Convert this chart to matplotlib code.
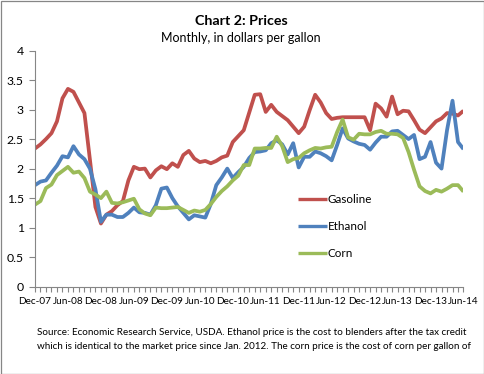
import matplotlib
matplotlib.use("Agg")
import matplotlib.pyplot as plt
from matplotlib.ticker import MultipleLocator, FixedLocator
from matplotlib.patches import Rectangle
import pandas as pd

plt.rcParams['font.family'] = ['Lato', 'DejaVu Sans']

months = pd.date_range('2007-12-01', periods=79, freq='MS')
month_labels = [d.strftime('%b-%y') for d in months]

gasoline = [2.34, 2.41, 2.50, 2.60, 2.80, 3.19, 3.35, 3.30, 3.12, 2.94,
            2.15, 1.35, 1.07, 1.22, 1.28, 1.38, 1.45, 1.80, 2.03, 1.99,
            2.00, 1.85, 1.97, 2.04, 1.99, 2.09, 2.03, 2.23, 2.30, 2.17,
            2.11, 2.13, 2.09, 2.13, 2.19, 2.22, 2.45, 2.55, 2.65, 2.95,
            3.25, 3.26, 2.96, 3.08, 2.96, 2.89, 2.82, 2.71, 2.60, 2.71,
            2.99, 3.25, 3.12, 2.94, 2.84, 2.86, 2.87, 2.87, 2.87, 2.87,
            2.87, 2.65, 3.10, 3.02, 2.88, 3.22, 2.92, 2.98, 2.97, 2.82,
            2.66, 2.60, 2.70, 2.80, 2.85, 2.94, 2.93, 2.90, 2.98]

ethanol = [1.72, 1.78, 1.80, 1.93, 2.05, 2.21, 2.19, 2.38, 2.24, 2.16,
           2.00, 1.65, 1.10, 1.22, 1.22, 1.18, 1.18, 1.25, 1.34, 1.26,
           1.25, 1.22, 1.38, 1.66, 1.68, 1.50, 1.36, 1.25, 1.14, 1.21,
           1.19, 1.17, 1.40, 1.72, 1.85, 2.00, 1.84, 1.94, 2.03, 2.18,
           2.28, 2.29, 2.31, 2.43, 2.48, 2.41, 2.24, 2.43, 2.02, 2.20,
           2.20, 2.29, 2.26, 2.21, 2.14, 2.40, 2.68, 2.51, 2.46, 2.42,
           2.40, 2.32, 2.44, 2.54, 2.54, 2.63, 2.64, 2.57, 2.50, 2.57,
           2.16, 2.20, 2.45, 2.10, 2.00, 2.65, 3.15, 2.45, 2.33]

corn = [1.39, 1.45, 1.67, 1.73, 1.89, 1.96, 2.03, 1.93, 1.95, 1.84,
        1.61, 1.56, 1.50, 1.61, 1.42, 1.41, 1.43, 1.46, 1.49, 1.31,
        1.24, 1.21, 1.34, 1.33, 1.33, 1.34, 1.35, 1.30, 1.25, 1.29,
        1.27, 1.30, 1.40, 1.52, 1.62, 1.70, 1.80, 1.88, 2.06, 2.06,
        2.34, 2.34, 2.35, 2.35, 2.54, 2.38, 2.11, 2.16, 2.18, 2.26,
        2.31, 2.35, 2.34, 2.36, 2.37, 2.62, 2.83, 2.53, 2.49, 2.59,
        2.58, 2.58, 2.62, 2.64, 2.59, 2.59, 2.58, 2.52, 2.28, 1.98,
        1.70, 1.62, 1.58, 1.64, 1.61, 1.66, 1.72, 1.72, 1.61]

series_names = ['Gasoline', 'Ethanol', 'Corn']
series_colors = ['#C0504D', '#4F81BD', '#9BBB59']
y_ticks = [0, 0.5, 1, 1.5, 2, 2.5, 3, 3.5, 4]
y_tick_labels = ['0', '0.5', '1', '1.5', '2', '2.5', '3', '3.5', '4']

title = 'Chart 2: Prices'
subtitle = 'Monthly, in dollars per gallon'
footer = ('Source: Economic Research Service, USDA. Ethanol price is the cost to blenders after the tax credit\n'
          'which is identical to the market price since Jan. 2012. The corn price is the cost of corn per gallon of')

W, H = 485, 374
fig = plt.figure(figsize=(W / 100, H / 100), dpi=100)
fig.patch.set_facecolor('white')
fig.patches.append(Rectangle((0.5 / W, 0.5 / H), 1 - 1.5 / W, 1 - 1.5 / H, transform=fig.transFigure,
                             fill=False, edgecolor='#868686', linewidth=0.9))

ax_l, ax_r, ax_t, ax_b = 35, 463.5, 50.5, 286.7
ax = fig.add_axes([ax_l / W, 1 - ax_b / H, (ax_r - ax_l) / W, (ax_b - ax_t) / H])

x = list(range(len(months)))
for vals, name, col in zip([gasoline, ethanol, corn], series_names, series_colors):
    ax.plot(x, vals, color=col, linewidth=2.7, label=name, solid_joinstyle='round', solid_capstyle='butt')

ax.set_xlim(0, len(months) - 1)
ax.set_ylim(0, 4)
ax.set_yticks(y_ticks)
ax.set_yticklabels(y_tick_labels)
ax.xaxis.set_major_locator(FixedLocator(x[::6]))
ax.set_xticklabels(month_labels[::6])
ax.xaxis.set_minor_locator(MultipleLocator(1))

for s in ['top', 'right']:
    ax.spines[s].set_visible(False)
for s in ['left', 'bottom']:
    ax.spines[s].set_color('#868686')
    ax.spines[s].set_linewidth(0.8)
ax.tick_params(axis='both', which='both', color='#868686', width=0.8, direction='out')
ax.tick_params(axis='y', length=4, pad=4, labelsize=8.8)
ax.tick_params(axis='x', which='major', length=3.5, pad=4, labelsize=7.2)
ax.tick_params(axis='x', which='minor', length=3.5)

leg = ax.legend(loc='center left', bbox_to_anchor=((298 - ax_l) / (ax_r - ax_l), (ax_b - 226.7) / (ax_b - ax_t)),
                frameon=False, fontsize=8.4, handlelength=2.45, handletextpad=0.1,
                labelspacing=1.38, borderaxespad=0, borderpad=0)
for h in leg.get_lines():
    h.set_linewidth(2.4)

fig.text(241 / W, 1 - 21 / H, title, ha='center', va='center', fontsize=10.3, fontweight='bold')
fig.text(241 / W, 1 - 38 / H, subtitle, ha='center', va='center', fontsize=9.0)
fig.text(37 / W, 1 - 339.5 / H, footer, ha='left', va='center', fontsize=7.15, linespacing=1.65)

fig.savefig('out.png', dpi=100)
